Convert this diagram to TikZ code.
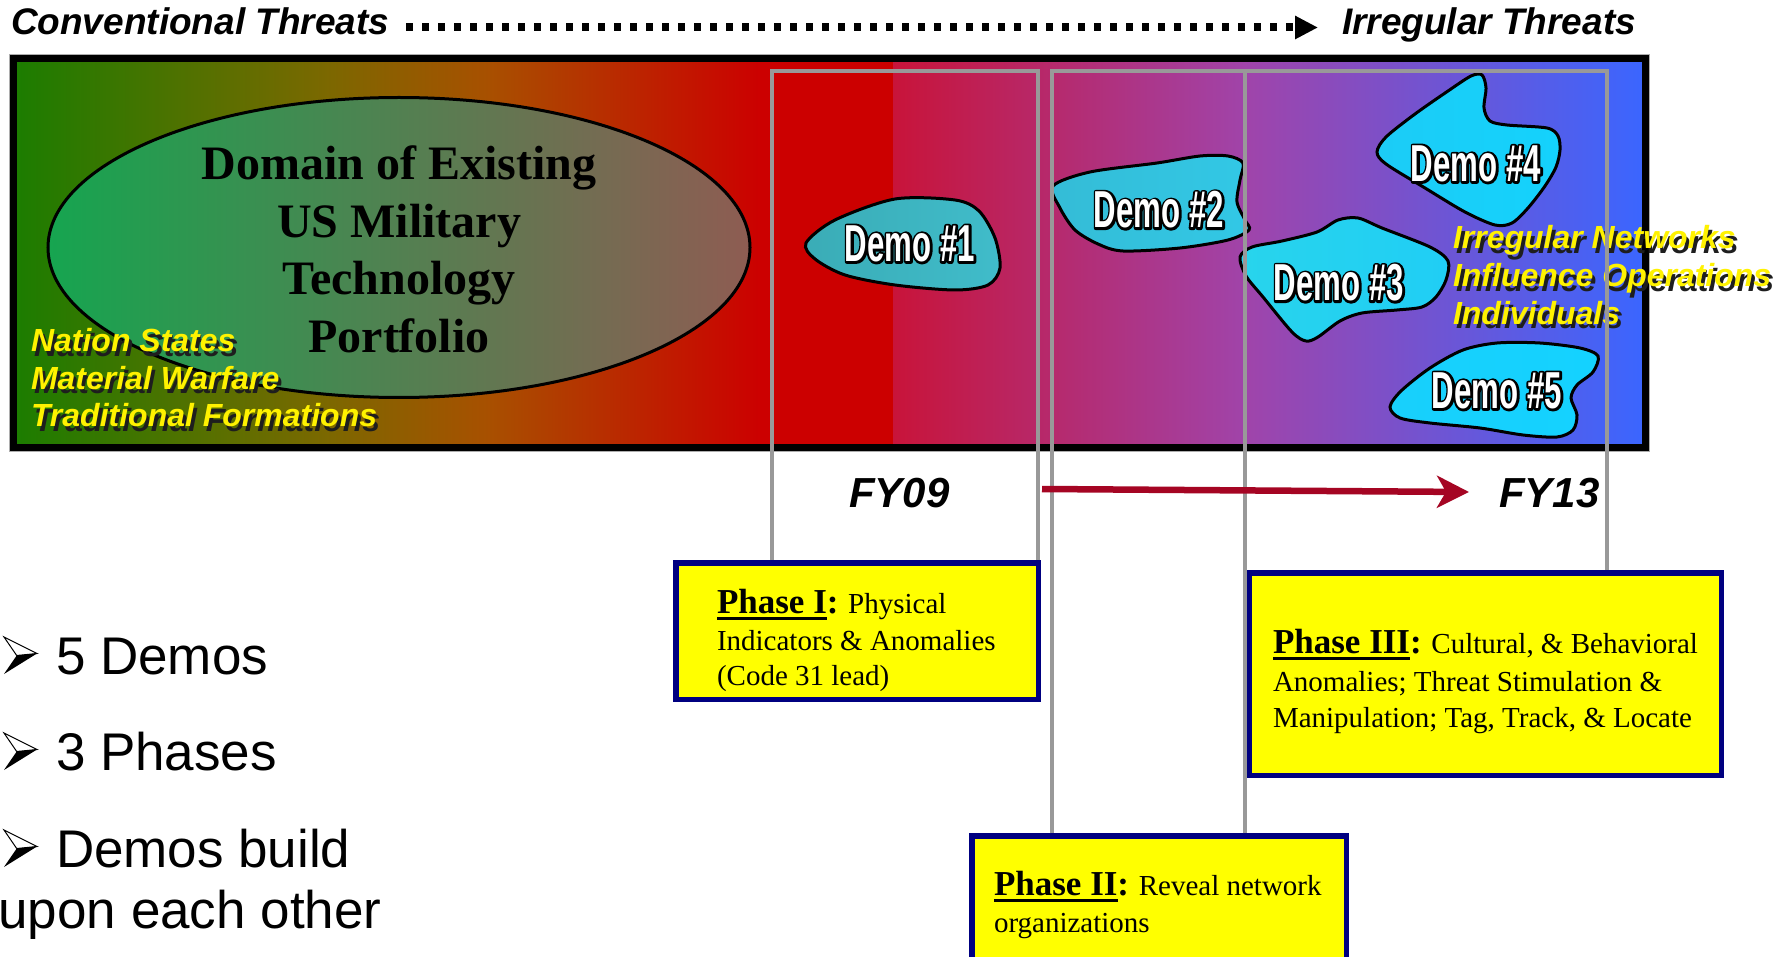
\documentclass[tikz,border=0pt]{standalone}
\usepackage{fontspec}
\setmainfont{Liberation Serif}
\newfontfamily\arial{Liberation Sans}
\newfontfamily\demofont[FakeStretch=0.6]{Liberation Sans}
\usetikzlibrary{arrows.meta,shapes.geometric}
\definecolor{bgA}{RGB}{27,125,0}
\definecolor{bgA2}{RGB}{123,104,0}
\definecolor{bgB}{RGB}{168,80,0}
\definecolor{bgC}{RGB}{204,0,0}
\definecolor{bgD}{RGB}{200,20,58}
\definecolor{bgE}{RGB}{160,68,170}
\definecolor{bgF}{RGB}{58,102,255}
\definecolor{elA}{RGB}{22,165,80}
\definecolor{elB}{RGB}{100,150,88}
\definecolor{elC}{RGB}{142,92,82}
\definecolor{shadowc}{RGB}{30,30,30}
\definecolor{brgray}{RGB}{153,153,153}
\definecolor{navy}{RGB}{0,0,128}
\definecolor{boxy}{RGB}{255,255,0}
\definecolor{arrred}{RGB}{165,5,35}
\definecolor{bA1}{RGB}{58,172,182}\definecolor{bA2}{RGB}{64,188,202}
\definecolor{bB1}{RGB}{52,188,214}\definecolor{bB2}{RGB}{50,200,230}
\definecolor{bC1}{RGB}{40,212,236}\definecolor{bC2}{RGB}{32,206,245}
\definecolor{bD1}{RGB}{28,204,246}\definecolor{bD2}{RGB}{20,210,252}
\definecolor{bE1}{RGB}{24,208,252}\definecolor{bE2}{RGB}{20,210,255}
\newcommand\outlined[1]{\rlap{\special{pdf:literal direct 1 Tr 4.6 w 0 G 0 g 1 j}#1\special{pdf:literal direct 0 Tr}}{\color{white}#1}}
\newcommand\shd[1]{\rlap{\kern3pt\lower4.5pt\hbox{\color{shadowc}#1}}{\color{yellow}#1}}
\newcommand\phb[1]{{\bfseries\fontsize{35}{40}\selectfont\setbox0\hbox{#1}\rlap{\rule[-7pt]{\wd0}{3pt}}\box0:}}
\tikzset{
  txt/.style={inner sep=0pt, outer sep=0pt},
  topfont/.style={txt, font=\arial\bfseries\itshape\fontsize{37}{40}\selectfont},
  yel/.style={txt, anchor=base west, font=\arial\bfseries\itshape\fontsize{32}{36}\selectfont},
  domtxt/.style={txt, anchor=base, font=\bfseries\fontsize{48}{56}\selectfont},
  demotxt/.style={txt, font=\demofont\bfseries\fontsize{52}{60}\selectfont},
  blob/.style={draw=black, line width=3pt},
  bracket/.style={draw=brgray, line width=4.5pt},
  phasebox/.style={draw=navy, fill=boxy, line width=5.5pt, rectangle, inner sep=0pt},
  phtxt/.style={txt, anchor=base west, font=\fontsize{29}{34}\selectfont},
  fy/.style={txt, anchor=base west, font=\arial\bfseries\itshape\fontsize{42}{46}\selectfont},
  bul/.style={txt, anchor=base west, font=\arial\fontsize{53}{60}\selectfont},
  barrow/.pic={\filldraw[fill=white, draw=black, line width=1pt, line join=miter] (0,0) -- (33,16.5) -- (12.7,18.5) -- cycle;
               \fill[black] (12.7,18.5) -- (33,16.5) -- (0,37) -- cycle;}
}
\begin{document}
\begin{tikzpicture}[x=1pt,y=-1pt]
\useasboundingbox[fill=white] (0,0) rectangle (1786,957);
% background band
\shade[left color=bgA, right color=bgA2] (13,58) rectangle (326,448);
\shade[left color=bgA2, right color=bgB] (325,58) rectangle (489,448);
\shade[left color=bgB, right color=bgC] (488,58) rectangle (761,448);
\fill[bgC] (760,58) rectangle (894,448);
\shade[left color=bgD, right color=bgE] (893,58) rectangle (1246,448);
\shade[left color=bgE, right color=bgF] (1245,58) rectangle (1646,448);
\draw[line width=7pt] (13.5,58.5) rectangle (1645.5,447.5);
\draw[brgray!80, line width=1.2pt] (9.5,54.5) rectangle (1649.5,451.5);
% ellipse
\node[ellipse, draw=black, line width=3pt, minimum width=702pt, minimum height=300pt, inner sep=0pt,
      left color=elA, middle color=elB, right color=elC] (dom) at (399,247.5) {};
\node[domtxt] (dt1) at (399,180) {Domain of Existing};
\node[domtxt] (dt2) at (399,237.5) {US Military};
\node[domtxt] (dt3) at (399,295) {Technology};
\node[domtxt] (dt4) at (399,353) {Portfolio};
% yellow texts
\node[yel] (y1) at (31,352) {\shd{Nation States}};
\node[yel] (y2) at (31,389.5) {\shd{Material Warfare}};
\node[yel] (y3) at (31,427) {\shd{Traditional Formations}};
% blobs
\draw[blob, left color=bA1, right color=bA2] plot[smooth cycle] coordinates {(806,243) (835,220) (895,199) (955,200) (979,211) (995,238) (1000,268) (988,285) (955,290) (895,285) (845,275) (815,259)};
\draw[blob, left color=bB1, right color=bB2] plot[smooth cycle] coordinates {(1053,186) (1090,172) (1157,163) (1200,156) (1228,156) (1243,163) (1240,180) (1237,202) (1245,220) (1249,230) (1228,240) (1180,248) (1123,251) (1098,244) (1075,230) (1060,208)};
\draw[blob, left color=bC1, right color=bC2] plot[smooth cycle] coordinates {(1240,257) (1252,247) (1282,241) (1317,232) (1338,220) (1358,218) (1382,228) (1430,247) (1448,261) (1446,280) (1436,297) (1422,307) (1397,310) (1362,313) (1340,321) (1318,337) (1306,341) (1292,332) (1263,297) (1246,276)};
\draw[blob, left color=bD1, right color=bD2] plot[smooth cycle] coordinates {(1482,75) (1486,88) (1484,108) (1490,121) (1507,125) (1547,128) (1558,136) (1560,150) (1556,167) (1545,186) (1528,208) (1512,223) (1495,225) (1465,212) (1425,188) (1386,164) (1377,152) (1386,137) (1415,114) (1448,91) (1471,76)};
\draw[blob, left color=bE1, right color=bE2] plot[smooth cycle] coordinates {(1390,407) (1401,391) (1430,368) (1463,350) (1497,343) (1540,343) (1580,348) (1598,356) (1593,372) (1577,385) (1571,398) (1577,415) (1573,430) (1557,437) (1523,435) (1480,428) (1430,423) (1400,418)};
\node[demotxt] (d1) at (910,244) {\outlined{Demo \#1}};
\node[demotxt] (d2) at (1159,210) {\outlined{Demo \#2}};
\node[demotxt] (d3) at (1339,283) {\outlined{Demo \#3}};
\node[demotxt] (d4) at (1476,164) {\outlined{Demo \#4}};
\node[demotxt] (d5) at (1497,391) {\outlined{Demo \#5}};
\node[yel] (y4) at (1453,249) {\shd{Irregular Networks}};
\node[yel] (y5) at (1453,287) {\shd{Influence Operations}};
\node[yel] (y6) at (1453,324.5) {\shd{Individuals}};
% top line
\node[topfont, anchor=base west] (conv) at (11,35) {Conventional Threats};
\node[topfont, anchor=base west] (irr) at (1342,35) {Irregular Threats};
\draw[line width=8pt, dash pattern=on 7pt off 9pt, -{Triangle[length=23pt,width=22pt]}]
  ([xshift=17pt,yshift=7.5pt]conv.base east) -- ([xshift=-24pt,yshift=7.5pt]irr.base west);
% phase boxes
\coordinate (g1) at (772,71);
\coordinate (g2) at (1038,71);
\coordinate (g3) at (1052,71);
\coordinate (g4) at (1245,71);
\coordinate (g5) at (1607,71);
\node[phasebox, minimum width=362.5pt, minimum height=136.5pt] (ph1) at (857,631) {};
\node[phasebox, minimum width=472.5pt, minimum height=202.5pt] (ph3) at (1485,674) {};
\node[phasebox, minimum width=374.5pt, minimum height=144pt] (ph2) at (1159,908) {};
\draw[bracket] (g1 |- ph1.north) -- (g1) -- (g2) -- (g2 |- ph1.north);
\draw[bracket] (g3 |- ph2.north) -- (g3) -- (g5) -- (g5 |- ph3.north);
\draw[bracket] (g4 |- ph2.north) -- (g4);
\node[phtxt] (p1a) at (717,613) {\phb{Phase I} Physical};
\node[phtxt] (p1b) at (717,650.5) {Indicators \& Anomalies};
\node[phtxt] (p1c) at (717,685) {(Code 31 lead)};
\node[phtxt] (p3a) at (1273,653) {\phb{Phase III} Cultural, \& Behavioral};
\node[phtxt] (p3b) at (1273,691.5) {Anomalies; Threat Stimulation \&};
\node[phtxt] (p3c) at (1273,727) {Manipulation; Tag, Track, \& Locate};
\node[phtxt] (p2a) at (994,895) {\phb{Phase II} Reveal network};
\node[phtxt] (p2b) at (994,932) {organizations};
% timeline
\node[fy] (fy09) at (849,507) {FY09};
\node[fy] (fy13) at (1499,507) {FY13};
\coordinate (ra) at (1042,489);
\coordinate (rb) at (1469,492);
\draw[arrred, line width=6.5pt, -{Stealth[length=32pt,width=32pt,inset=9pt]}] (ra) -- (rb);
% bullets
\pic at (4,637) {barrow};
\pic at (4,733) {barrow};
\pic at (4,830) {barrow};
\node[bul] (b1) at (56,674) {5 Demos};
\node[bul] (b2) at (56,770) {3 Phases};
\node[bul] (b3) at (56,867) {Demos build};
\node[bul] (b4) at (-1.5,928) {upon each other};
\end{tikzpicture}
\end{document}
